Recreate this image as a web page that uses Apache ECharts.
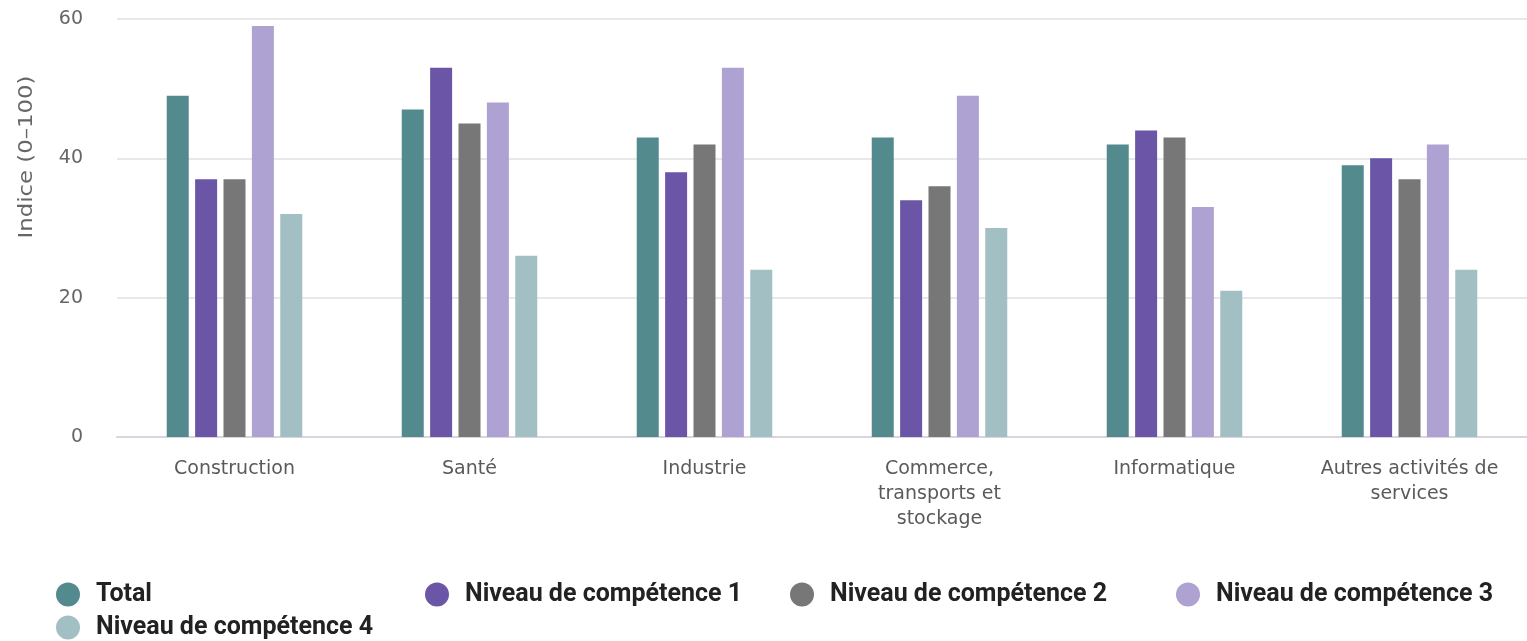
<!DOCTYPE html>
<html>
<head>
<meta charset="utf-8">
<script src="https://cdn.jsdelivr.net/npm/echarts@6/dist/echarts.min.js"></script>
<style>
  html, body { margin: 0; padding: 0; background: #fff; }
  #chart { width: 1527px; height: 641px; }
</style>
</head>
<body>
<div id="chart"></div>
<script>
const categories = ['Construction', 'Santé', 'Industrie', 'Commerce,\ntransports et\nstockage', 'Informatique', 'Autres activités de\nservices'];
const total = [49, 47, 43, 43, 42, 39];
const niveau1 = [37, 53, 38, 34, 44, 40];
const niveau2 = [37, 45, 42, 36, 43, 37];
const niveau3 = [59, 48, 53, 49, 33, 42];
const niveau4 = [32, 26, 24, 30, 21, 24];
const yTicks = [0, 20, 40, 60];

const chart = echarts.init(document.getElementById('chart'));

const series = [
    { name: 'Total', data: total, color: '#538a8d' },
    { name: 'Niveau de compétence 1', data: niveau1, color: '#6b55a7' },
    { name: 'Niveau de compétence 2', data: niveau2, color: '#777777' },
    { name: 'Niveau de compétence 3', data: niveau3, color: '#ada2d1' },
    { name: 'Niveau de compétence 4', data: niveau4, color: '#a2bfc4' },
];

// one legend per item so they line up in columns like the original
const legendPos = [
    { left: 56, top: 582 },
    { left: 425, top: 582 },
    { left: 790, top: 582 },
    { left: 1176, top: 582 },
    { left: 56, top: 615 },
];
const legends = series.map((s, i) => ({
    data: [s.name],
    left: legendPos[i].left,
    top: legendPos[i].top,
    padding: 0,
    icon: 'circle',
    itemWidth: 24,
    itemHeight: 24,
    selectedMode: false,
    textStyle: { fontFamily: 'Roboto', fontWeight: 'bold', fontSize: 25, color: '#222', padding: [0, 0, 0, 11] },
}));

const option = {
    animation: false,
    legend: legends,
    grid: { left: 117, right: 0, top: 19, bottom: 204 },
    graphic: [{
        type: 'text',
        x: 27,
        y: 157,
        rotation: Math.PI / 2,
        scaleX: 1.2,
        style: {
            text: 'Indice (0–100)',
            font: '19px "DejaVu Sans"',
            fill: '#666',
            align: 'center',
            verticalAlign: 'middle',
        },
    }],
    xAxis: {
        type: 'category',
        data: categories,
        axisTick: { show: false },
        axisLine: { lineStyle: { color: '#d8d5e0', width: 2 } },
        axisLabel: {
            interval: 0,
            margin: 20,
            fontFamily: 'DejaVu Sans',
            fontSize: 19,
            color: '#5a5a5a',
            lineHeight: 25,
        },
    },
    yAxis: {
        type: 'value',
        min: 0,
        max: 60,
        interval: 20,
        axisLabel: {
            margin: 34,
            fontFamily: 'DejaVu Sans',
            fontSize: 19,
            color: '#666',
            formatter: v => (yTicks.includes(v) ? String(v) : ''),
        },
        splitLine: { lineStyle: { color: '#e8e8e8', width: 2 } },
    },
    series: series.map(s => ({
        type: 'bar',
        name: s.name,
        data: s.data,
        itemStyle: { color: s.color },
        barWidth: 22,
        barGap: '29%',
    })),
};

chart.setOption(option);
</script>
</body>
</html>
